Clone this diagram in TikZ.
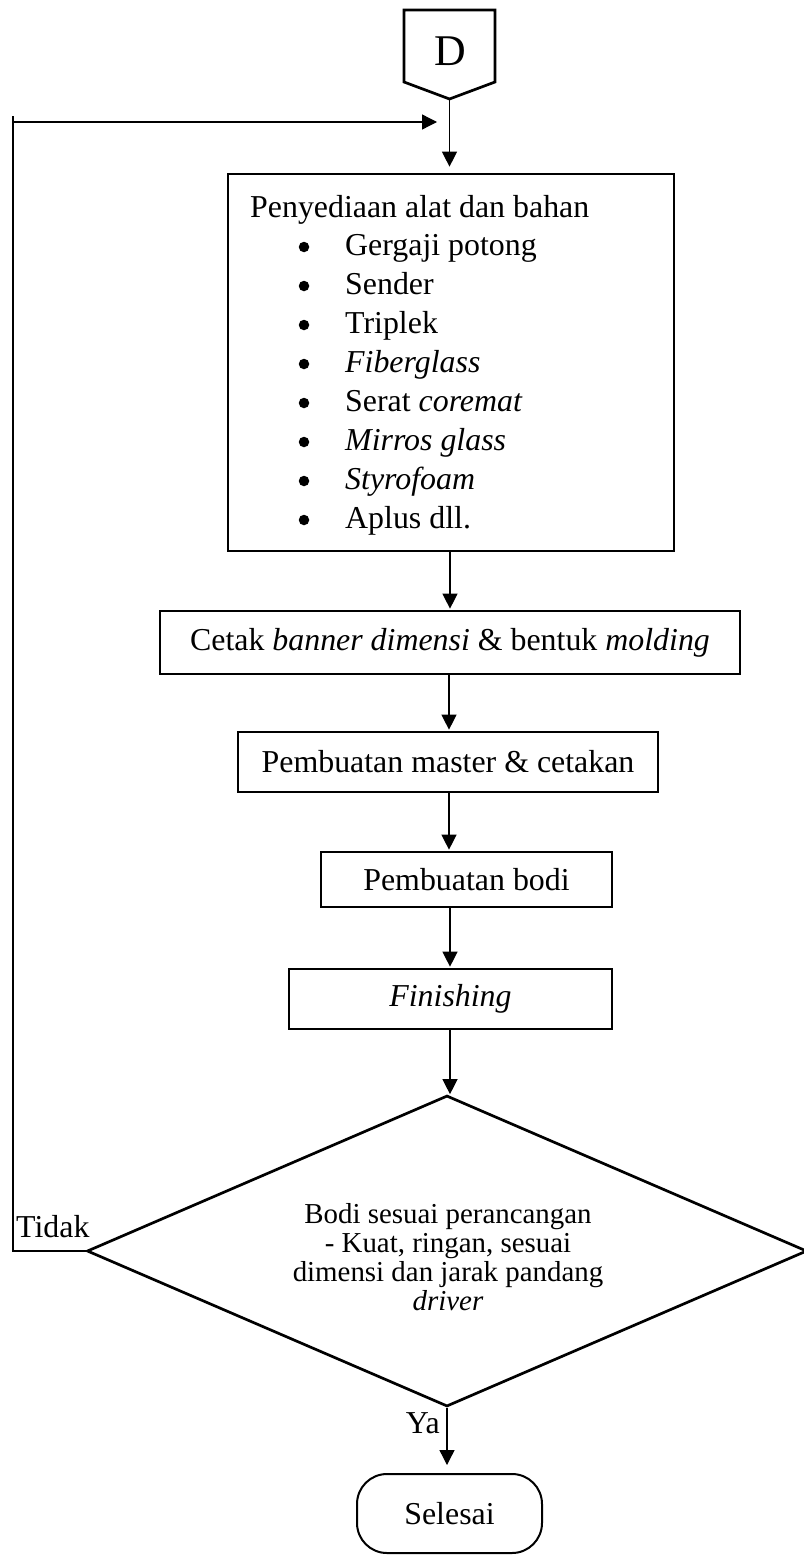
\documentclass[tikz,border=0pt]{standalone}
\usepackage{fontspec}
\setmainfont{Liberation Serif}
\usetikzlibrary{arrows.meta,shapes.geometric}
\begin{document}
\begin{tikzpicture}[x=1bp,y=-1bp,
  box/.style={draw, line width=2.7bp, rectangle, inner sep=0, font=\fontsize{32}{39}\selectfont},
  conn/.style={line width=1.3bp},
  arr/.style={conn, -{Triangle[width=15bp,length=15bp]}},
  txt/.style={inner sep=0, font=\fontsize{32}{39}\selectfont},
  bul/.style={circle, fill, inner sep=0, minimum size=10.5bp},
  dtxt/.style={inner sep=0, align=center, font=\fontsize{29}{29}\selectfont}
]
\useasboundingbox (0,0) rectangle (803,1556);

% off-page connector D
\draw[line width=2.7bp] (404,10) -- (495,10) -- (495,82) -- (449.5,99) -- (404,82) -- cycle;
\coordinate (Dtip) at (449.5,99);
\node[inner sep=0, font=\fontsize{44}{50}\selectfont] (dlab) at (450,51) {D};

% box 1
\node[box, minimum width=446bp, minimum height=377bp] (b1) at (451,362.5) {};
\node[txt, anchor=base west] (h1) at (250,217) {Penyediaan alat dan bahan};
\node[bul] (bu1) at (304,247) {};
\node[txt, anchor=base west] (i1) at (345,255) {Gergaji potong};
\node[bul] (bu2) at (304,286) {};
\node[txt, anchor=base west] (i2) at (345,294) {Sender};
\node[bul] (bu3) at (304,325) {};
\node[txt, anchor=base west] (i3) at (345,333) {Triplek};
\node[bul] (bu4) at (304,364) {};
\node[txt, anchor=base west] (i4) at (345,372) {\textit{Fiberglass}};
\node[bul] (bu5) at (304,403) {};
\node[txt, anchor=base west] (i5) at (345,411) {Serat \textit{coremat}};
\node[bul] (bu6) at (304,442) {};
\node[txt, anchor=base west] (i6) at (345,450) {\textit{Mirros glass}};
\node[bul] (bu7) at (304,481) {};
\node[txt, anchor=base west] (i7) at (345,489) {\textit{Styrofoam}};
\node[bul] (bu8) at (304,520) {};
\node[txt, anchor=base west] (i8) at (345,528) {Aplus dll.};

% process boxes
\node[box, minimum width=580bp, minimum height=63bp] (b2) at (450,642.5) {Cetak \textit{banner dimensi} \& bentuk \textit{molding}};
\node[box, minimum width=420bp, minimum height=60bp] (b3) at (448,762) {Pembuatan master \& cetakan};
\node[box, minimum width=291bp, minimum height=55bp] (b4) at (466.5,879.5) {Pembuatan bodi};
\node[box, minimum width=323bp, minimum height=60bp] (b5) at (450.5,999) {\textit{Finishing}};

% decision
\node[draw, diamond, line width=2.7bp, minimum width=720bp, minimum height=311bp, inner sep=0, aspect=2.3] (dec) at (447,1251) {};
\node[dtxt] (dectxt) at (448,1257) {Bodi sesuai perancangan\\- Kuat, ringan, sesuai\\dimensi dan jarak pandang\\\textit{driver}};

% end
\node[draw, line width=2bp, rounded corners=30bp, minimum width=185bp, minimum height=79bp, txt] (sel) at (449.5,1513.5) {Selesai};

% labels
\node[txt, anchor=base west] (tidak) at (16,1237) {Tidak};
\node[txt, anchor=base east] (ya) at (440,1433) {Ya};

% connectors
\draw[arr, shorten >=6bp] (Dtip) -- (Dtip |- b1.north);
\draw[arr, shorten >=1bp] (b1.south -| 450,0) -- (450,0 |- b2.north);
\draw[arr, shorten >=1bp] (b2.south -| 449,0) -- (449,0 |- b3.north);
\draw[arr, shorten >=1bp] (b3.south -| 449,0) -- (449,0 |- b4.north);
\draw[arr, shorten >=1bp] (b4.south -| 450,0) -- (450,0 |- b5.north);
\draw[arr] (b5.south -| 450,0) -- (450,0 |- dec.north);
\draw[arr, shorten >=8bp] (dec.south) -- (dec.south |- sel.north);

% loop back
\coordinate (lb) at (13,1251);
\coordinate (lt) at (13,116);
\coordinate (lm) at (13,122);
\coordinate (ltip) at (437,122);
\draw[conn] (dec.west) -- (lb) -- (lt);
\draw[arr] (lm) -- (ltip);
\end{tikzpicture}
\end{document}
